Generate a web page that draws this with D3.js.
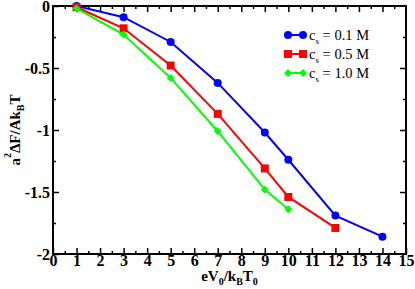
<!DOCTYPE html>
<html>
<head>
<meta charset="utf-8">
<script src="https://cdn.jsdelivr.net/npm/d3@7"></script>
<style>
  body { margin: 0; background: #fff; }
  text { font-family: "Liberation Serif", "Times New Roman", serif; }
</style>
</head>
<body>
<div id="chart"></div>
<script>
const xBlue = [1, 3, 5, 7, 9, 10, 12, 14];
const yBlue = [0, -0.09, -0.29, -0.62, -1.02, -1.24, -1.69, -1.86];
const xRed = [1, 3, 5, 7, 9, 10, 12];
const yRed = [-0.01, -0.18, -0.48, -0.87, -1.31, -1.54, -1.79];
const xGreen = [1, 3, 5, 7, 9, 10];
const yGreen = [-0.02, -0.23, -0.58, -1.01, -1.48, -1.64];
const seriesNames = ["0.1 M", "0.5 M", "1.0 M"];

const width = 415, height = 289;
const margin = {top: 6, right: 9, bottom: 35, left: 53};
const iw = width - margin.left - margin.right;
const ih = height - margin.top - margin.bottom;

const svg = d3.select("#chart").append("svg")
  .attr("width", width)
  .attr("height", height);

const g = svg.append("g")
  .attr("transform", `translate(${margin.left},${margin.top})`);

const x = d3.scaleLinear().domain([0, 15]).range([0, iw]);
const y = d3.scaleLinear().domain([-2, 0]).range([ih, 0]);

// minor ticks
const xMinor = d3.range(0.5, 15, 1);
const yMinor = d3.range(-1.75, 0, 0.5);

function styleAxis(sel) {
  sel.select(".domain").remove();
  sel.selectAll("line").attr("stroke", "#000").attr("stroke-width", 1.5);
}

// bottom
g.append("g").attr("transform", `translate(0,${ih})`)
  .call(d3.axisBottom(x).tickValues(d3.range(0, 16, 1)).tickSize(-6).tickPadding(1).tickFormat(d3.format("d")))
  .call(styleAxis)
  .selectAll("text").attr("font-size", 16).attr("font-weight", "bold").attr("fill", "#000");
g.append("g").attr("transform", `translate(0,${ih})`)
  .call(d3.axisBottom(x).tickValues(xMinor).tickSize(-3).tickFormat(""))
  .call(styleAxis);
// top
g.append("g")
  .call(d3.axisTop(x).tickValues(d3.range(1, 15, 1)).tickSize(-6).tickFormat(""))
  .call(styleAxis);
g.append("g")
  .call(d3.axisTop(x).tickValues(xMinor).tickSize(-3).tickFormat(""))
  .call(styleAxis);
// left
g.append("g")
  .call(d3.axisLeft(y).tickValues([-2, -1.5, -1, -0.5, 0]).tickSize(-6).tickPadding(3)
    .tickFormat(d => d === 0 ? "0" : String(d)))
  .call(styleAxis)
  .selectAll("text").attr("font-size", 16).attr("font-weight", "bold").attr("fill", "#000");
g.append("g")
  .call(d3.axisLeft(y).tickValues(yMinor).tickSize(-3).tickFormat(""))
  .call(styleAxis);
// right
g.append("g").attr("transform", `translate(${iw},0)`)
  .call(d3.axisRight(y).tickValues([-1.5, -1, -0.5]).tickSize(-6).tickFormat(""))
  .call(styleAxis);
g.append("g").attr("transform", `translate(${iw},0)`)
  .call(d3.axisRight(y).tickValues(yMinor).tickSize(-3).tickFormat(""))
  .call(styleAxis);

// frame
g.append("rect")
  .attr("width", iw).attr("height", ih)
  .attr("fill", "none").attr("stroke", "#000").attr("stroke-width", 2);

const series = [
  {xs: xBlue, ys: yBlue, color: "#0000ff", marker: "circle"},
  {xs: xRed, ys: yRed, color: "#ff0000", marker: "square"},
  {xs: xGreen, ys: yGreen, color: "#00ff00", marker: "diamond"}
];

const line = d3.line().x(d => x(d[0])).y(d => y(d[1]));

function drawMarker(sel, type, color) {
  if (type === "circle") {
    sel.append("circle").attr("r", 4).attr("fill", color);
  } else if (type === "square") {
    sel.append("rect").attr("x", -4).attr("y", -4).attr("width", 8).attr("height", 8).attr("fill", color);
  } else {
    sel.append("path").attr("d", "M0,-4L4,0L0,4L-4,0Z").attr("fill", color);
  }
}

series.forEach(s => {
  const pts = s.xs.map((v, i) => [v, s.ys[i]]);
  g.append("path").datum(pts)
    .attr("d", line)
    .attr("fill", "none")
    .attr("stroke", s.color)
    .attr("stroke-width", 2);
  g.selectAll(null).data(pts).enter().append("g")
    .attr("transform", d => `translate(${x(d[0])},${y(d[1])})`)
    .each(function () { drawMarker(d3.select(this), s.marker, s.color); });
});

// legend
const legend = svg.append("g").attr("transform", "translate(288,35)");
series.forEach((s, i) => {
  const row = legend.append("g").attr("transform", `translate(0,${i * 19})`);
  row.append("line").attr("x1", 0).attr("x2", 15).attr("y1", 0).attr("y2", 0)
    .attr("stroke", s.color).attr("stroke-width", 2);
  drawMarker(row.append("g"), s.marker, s.color);
  drawMarker(row.append("g").attr("transform", "translate(15,0)"), s.marker, s.color);
  const t = row.append("text").attr("x", 21).attr("y", 5).attr("font-size", 14.5).attr("fill", "#000");
  t.append("tspan").text("c");
  t.append("tspan").attr("font-size", 9).attr("dy", 4).text("s");
  t.append("tspan").attr("dy", -4).text(" = " + seriesNames[i]);
});

// x label
const xl = svg.append("text")
  .attr("x", margin.left + iw / 2).attr("y", 281)
  .attr("text-anchor", "middle").attr("font-size", 15).attr("font-weight", "bold");
xl.append("tspan").text("eV");
xl.append("tspan").attr("font-size", 10).attr("dy", 4).text("0");
xl.append("tspan").attr("dy", -4).text("/k");
xl.append("tspan").attr("font-size", 10).attr("dy", 4).text("B");
xl.append("tspan").attr("dy", -4).text("T");
xl.append("tspan").attr("font-size", 10).attr("dy", 4).text("0");

// y label
const yl = svg.append("text")
  .attr("transform", `translate(20,${margin.top + ih / 2}) rotate(-90)`)
  .attr("text-anchor", "middle").attr("font-size", 15).attr("font-weight", "bold");
yl.append("tspan").text("a");
yl.append("tspan").attr("font-size", 10).attr("dy", -9).text("2");
yl.append("tspan").attr("dy", 9).text("\u0394F/Ak");
yl.append("tspan").attr("font-size", 10).attr("dy", 4).text("B");
yl.append("tspan").attr("dy", -4).text("T");
</script>
</body>
</html>
